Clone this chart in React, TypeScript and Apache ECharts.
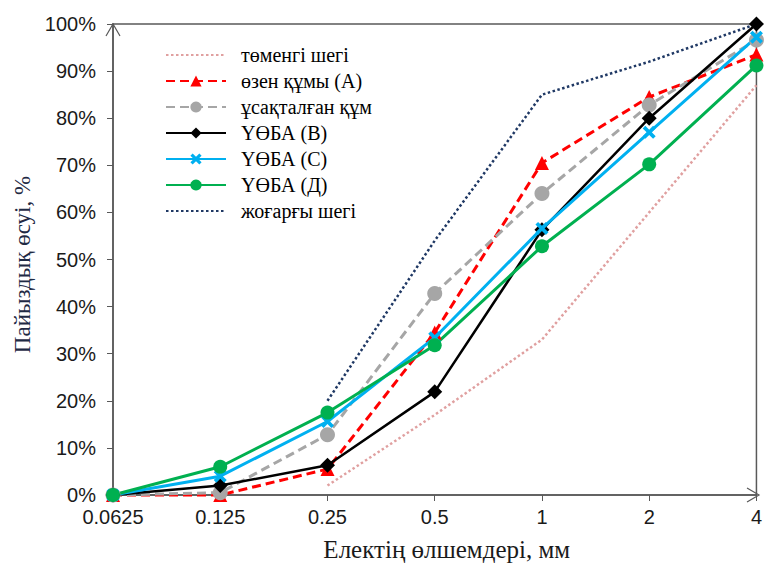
import React, { useEffect, useRef } from "react";
import * as echarts from "echarts";

const sizes = ["0.0625", "0.125", "0.25", "0.5", "1", "2", "4"];
const yTicks = { min: 0, max: 100, interval: 10 };

const lowerLimit = [null, null, 2, 17, 33, 60, 87];
const riverSand = [0, 0, 5.5, 34.5, 70.5, 84.5, 93.5];
const crushedSand = [0, 0.5, 12.8, 42.8, 64, 82.8, 96.6];
const mixB = [0, 2, 6.3, 21.9, 56.3, 80, 100];
const mixC = [0, 4, 15.6, 33.4, 56.6, 77, 97.2];
const mixD = [0, 6, 17.5, 31.8, 52.8, 70.2, 91.2];
const upperLimit = [null, null, 20, 54, 85, 92, 100];

const names = [
  "төменгі шегі",
  "өзен құмы (А)",
  "ұсақталған құм",
  "ҮӨБА (В)",
  "ҮӨБА (С)",
  "ҮӨБА (Д)",
  "жоғарғы шегі",
];

const crossPath =
  "path://M0,2 L2,0 L5,3 L8,0 L10,2 L7,5 L10,8 L8,10 L5,7 L2,10 L0,8 L3,5 Z";

export default function App() {
  const ref = useRef<HTMLDivElement>(null);
  useEffect(() => {
    document.body.style.margin = "0";
    const chart = echarts.init(ref.current!, null, { renderer: "svg" });
    const serif = "'Liberation Serif', 'DejaVu Serif', serif";
    const sans = "'Liberation Sans', Arial, sans-serif";
    const base = (name: string, data: any[], color: string) => ({
      name,
      type: "line",
      data,
      clip: false,
      color,
    });
    const dotted = [2.5, 2.5];
    chart.setOption({
      animation: false,
      backgroundColor: "#ffffff",
      grid: {
        left: 113,
        right: 6,
        top: 24,
        bottom: 72,
        show: true,
        borderColor: "#595959",
        borderWidth: 1.5,
      },
      legend: {
        orient: "vertical",
        left: 160,
        top: 40,
        itemWidth: 60,
        itemHeight: 14,
        itemGap: 6,
        data: names.map((n, i) =>
          i === 0 || i === 6 ? { name: n, itemStyle: { opacity: 0 } } : { name: n }
        ),
        textStyle: {
          fontFamily: serif,
          fontSize: 20,
          color: "#000",
          padding: [0, 0, 0, 10],
        },
      },
      xAxis: {
        type: "category",
        data: sizes,
        boundaryGap: false,
        name: "Електің өлшемдері, мм",
        nameLocation: "middle",
        nameGap: 42,
        nameTextStyle: { fontFamily: serif, fontSize: 25, color: "#1a1a1a", padding: [0, 0, 0, 24] },
        axisLine: { lineStyle: { color: "#595959", width: 1.5 } },
        axisTick: { show: true, length: 6, alignWithLabel: true, lineStyle: { color: "#595959" } },
        axisLabel: { fontFamily: sans, fontSize: 20, color: "#1a1a1a", margin: 12 },
        splitLine: { show: false },
      },
      yAxis: {
        type: "value",
        min: yTicks.min,
        max: yTicks.max,
        interval: yTicks.interval,
        name: "Пайыздық өсуі, %",
        nameLocation: "middle",
        nameGap: 76,
        nameTextStyle: { fontFamily: serif, fontSize: 23, color: "#1f2a44", padding: [0, 10, 0, 0] },
        axisLine: { show: true, lineStyle: { color: "#595959", width: 1.5 } },
        axisTick: { show: true, length: 6, lineStyle: { color: "#595959" } },
        axisLabel: { fontFamily: sans, fontSize: 20, color: "#1a1a1a", margin: 17, formatter: "{value}%" },
        splitLine: { show: false },
      },
      graphic: [
        {
          type: "polyline",
          shape: { points: [[106, 36], [113, 24], [120, 36]] },
          style: { stroke: "#595959", lineWidth: 1.2, fill: "none" },
        },
        {
          type: "polyline",
          shape: { points: [[747, 488], [759, 495], [747, 502]] },
          style: { stroke: "#595959", lineWidth: 1.2, fill: "none" },
        },
      ],
      series: [
        {
          ...base(names[0], lowerLimit, "#e0a0a0"),
          symbol: "none",
          lineStyle: { width: 2.5, type: dotted, color: "#e0a0a0" },
        },
        {
          ...base(names[1], riverSand, "#ff0000"),
          symbol: "triangle",
          symbolSize: 14,
          lineStyle: { width: 3, type: [9, 5], color: "#ff0000" },
          itemStyle: { color: "#ff0000" },
        },
        {
          ...base(names[2], crushedSand, "#a6a6a6"),
          symbol: "circle",
          symbolSize: 15,
          lineStyle: { width: 3, type: [9, 5], color: "#a6a6a6" },
          itemStyle: { color: "#a6a6a6" },
        },
        {
          ...base(names[3], mixB, "#000000"),
          symbol: "diamond",
          symbolSize: 15,
          lineStyle: { width: 2.5, color: "#000000" },
          itemStyle: { color: "#000000" },
        },
        {
          ...base(names[4], mixC, "#00b0f0"),
          symbol: crossPath,
          symbolSize: 13,
          lineStyle: { width: 3, color: "#00b0f0" },
          itemStyle: { color: "#00b0f0" },
        },
        {
          ...base(names[5], mixD, "#00b050"),
          symbol: "circle",
          symbolSize: 14,
          lineStyle: { width: 3, color: "#00b050" },
          itemStyle: { color: "#00b050" },
        },
        {
          ...base(names[6], upperLimit, "#1f3864"),
          symbol: "none",
          lineStyle: { width: 2.5, type: dotted, color: "#1f3864" },
        },
      ],
    });
    return () => chart.dispose();
  }, []);
  return (
    <div
      ref={ref}
      style={{ position: "absolute", left: 0, top: 0, width: 765, height: 567 }}
    />
  );
}
